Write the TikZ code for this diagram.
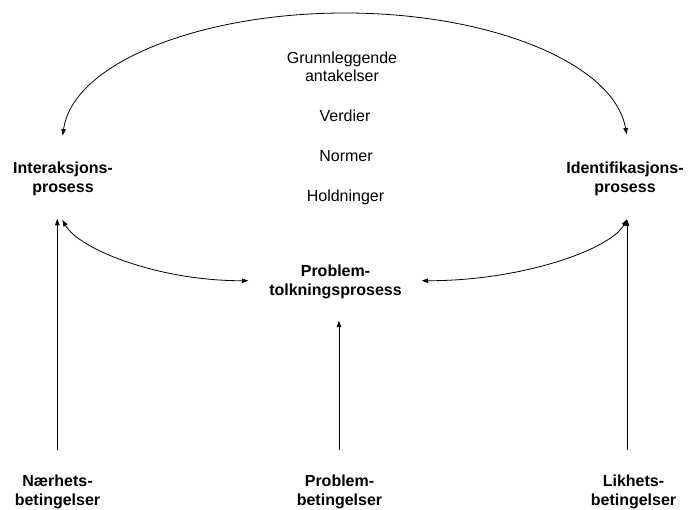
\documentclass[tikz,border=0pt]{standalone}
\usepackage{fontspec}
\setmainfont{Liberation Sans}
\usetikzlibrary{arrows.meta}
\begin{document}
\begin{tikzpicture}[x=1pt,y=-1pt,
  txt/.style={inner sep=0pt,anchor=base,align=center,font=\fontsize{16}{18.4}\selectfont},
  btxt/.style={txt,font=\fontsize{16}{18.4}\selectfont\bfseries},
  conn/.style={line width=0.8pt,draw=black},
  tipend/.style={conn,-{Triangle[length=6.5pt,width=4.5pt]}},
  tipboth/.style={conn,{Triangle[length=6.5pt,width=4.5pt]}-{Triangle[length=6.5pt,width=4.5pt]}}]
\useasboundingbox (0,0) rectangle (690,510);
% labels (base anchor = baseline of the last line)
\node[txt]  (gru)   at (342,81.7)  {Grunnleggende\\antakelser};
\node[txt]  (verd)  at (345,121.7) {Verdier};
\node[txt]  (norm)  at (346,161.7) {Normer};
\node[txt]  (hold)  at (345.5,201.7) {Holdninger};
\node[btxt] (inter) at (63,192.4)    {Interaksjons-\\prosess};
\node[btxt] (ident) at (625,192.4)   {Identifikasjons-\\prosess};
\node[btxt] (probt) at (335.5,295.1) {Problem-\\tolkningsprosess};
\node[btxt] (naer)  at (57.5,505.1) {Nærhets-\\betingelser};
\node[btxt] (probb) at (339.5,505.1) {Problem-\\betingelser};
\node[btxt] (likh)  at (633.5,505.1) {Likhets-\\betingelser};
% connector end points
\coordinate (interTop) at (62.7,135.5);
\coordinate (identTop) at (626.7,134.5);
\coordinate (interBotA) at (57.3,218.8);
\coordinate (interBotB) at (62.3,220);
\coordinate (identBot) at (627,219.3);
\coordinate (probtL) at (248.3,280.7);
\coordinate (probtR) at (421.7,280.7);
\coordinate (probtB) at (339,320.7);
\coordinate (naerTop) at (57.3,450);
\coordinate (probbTop) at (339,450);
\coordinate (likhTop) at (627,450);
% top arc
\draw[tipboth] (interTop) .. controls (73,63) and (200,13) .. (345,13)
  .. controls (490,13) and (614,63) .. (identTop);
% curves to the problem interpretation process
\draw[tipboth] (interBotB) .. controls (80,250) and (160,281) .. (probtL);
\draw[tipboth] (probtR) .. controls (520,281) and (610,250) .. (identBot);
% vertical arrows
\draw[tipend] (naerTop) -- (interBotA);
\draw[tipend] (probbTop) -- (probtB);
\draw[tipend] (likhTop) -- (identBot);
\end{tikzpicture}
\end{document}
